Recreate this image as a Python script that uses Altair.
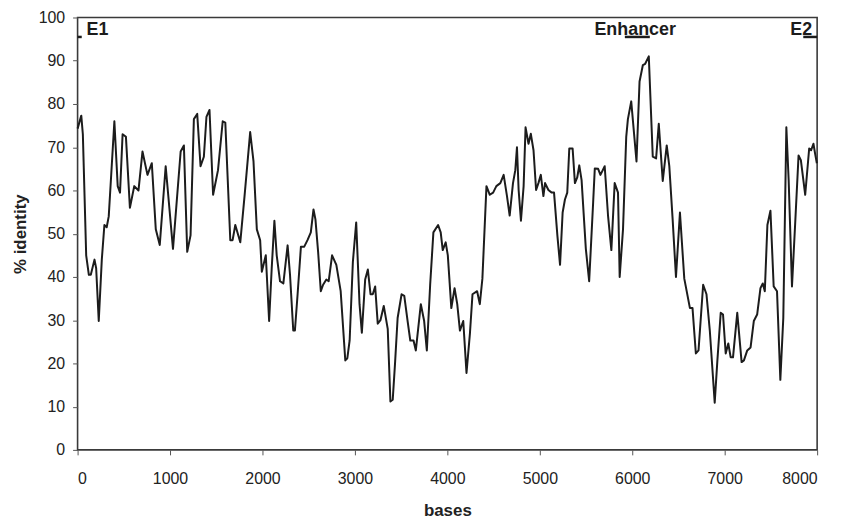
import altair as alt
import pandas as pd

# sequence identity trace (bases, % identity)
bases = [0, 40, 57, 93, 122, 143, 183, 201, 229, 262, 290, 315, 337, 362, 398, 434, 459, 487, 523,
         566, 613, 659, 702, 756, 803, 846, 889, 953, 1032, 1115, 1150, 1186, 1222, 1258, 1294,
         1330, 1366, 1394, 1427, 1466, 1519, 1570, 1598, 1652, 1677, 1706, 1760, 1806, 1867,
         1903, 1939, 1975, 1993, 2036, 2072, 2100, 2129, 2154, 2190, 2226, 2272, 2298, 2333,
         2351, 2380, 2416, 2452, 2487, 2523, 2552, 2573, 2602, 2631, 2656, 2691, 2716, 2753,
         2799, 2846, 2896, 2918, 2943, 2978, 3014, 3050, 3075, 3111, 3140, 3169, 3193, 3219,
         3247, 3276, 3312, 3355, 3384, 3409, 3434, 3462, 3505, 3534, 3570, 3599, 3634, 3659,
         3713, 3749, 3778, 3814, 3849, 3900, 3928, 3950, 3982, 4005, 4043, 4078, 4107, 4136,
         4172, 4207, 4244, 4272, 4322, 4351, 4379, 4423, 4459, 4495, 4530, 4573, 4609, 4645,
         4674, 4710, 4735, 4753, 4771, 4796, 4825, 4846, 4878, 4903, 4932, 4960, 4985, 5011,
         5039, 5057, 5093, 5129, 5154, 5190, 5219, 5247, 5272, 5297, 5319, 5355, 5380, 5405,
         5427, 5452, 5498, 5534, 5577, 5595, 5631, 5656, 5702, 5738, 5774, 5810, 5846, 5864,
         5900, 5935, 5953, 5989, 6046, 6079, 6115, 6140, 6179, 6222, 6258, 6287, 6330, 6373,
         6401, 6437, 6473, 6516, 6563, 6624, 6652, 6688, 6717, 6767, 6803, 6839, 6892, 6921,
         6957, 6982, 7011, 7039, 7065, 7090, 7136, 7183, 7208, 7244, 7280, 7315, 7351, 7387,
         7412, 7434, 7462, 7495, 7530, 7566, 7602, 7634, 7667, 7692, 7728, 7763, 7799, 7824,
         7871, 7914, 7935, 7960, 7978, 7997]
identity = [74.3, 77.3, 73, 45, 40.5, 40.5, 44, 42, 29.8, 44, 52, 51.5, 54, 63, 76, 61, 59.5, 73, 72.4,
            56, 61, 60, 69, 63.6, 66.3, 51, 47.4, 65.6, 46.5, 69, 70.4, 45.8, 49.6, 76.5, 77.7,
            65.6, 67.8, 77, 78.6, 59, 64.7, 76, 75.7, 48.5, 48.5, 52, 48, 58.7, 73.5,
            66.7, 51, 48.5, 41.2, 45, 29.8, 42, 53, 45, 39, 38.5, 47.3, 40.5, 27.6,
            27.6, 36, 47, 47, 48.5, 50.3, 55.6, 53.3, 45.8, 36.7, 38.2, 39.4, 39, 45,
            42.8, 36.7, 20.7, 21.2, 25.3, 43.5, 52.6, 33.7, 27.1, 39.4, 41.7, 36, 36, 37.8,
            29.2, 30, 33.3, 28, 11.2, 11.6, 20, 30.5, 36, 35.6, 29.8, 25.3, 25.3, 23,
            33.7, 29.8, 23, 38.2, 50.3, 52, 50.3, 46.2, 48, 45, 32.8, 37.4, 33.7, 27.6,
            29.8, 17.8, 26.9, 36, 36.7, 33.7, 39.6, 61, 59, 59.5, 61, 61.7, 63.6, 58.7,
            54.2, 61.7, 64.7, 70, 60.1, 53, 61, 74.6, 70.8, 73.1, 69.3, 60.1, 61.7, 63.6,
            58.7, 61.7, 60.1, 59.5, 59.5, 49.6, 42.8, 54.9, 57.9, 59.5, 69.7, 69.7, 61.7, 63,
            65.8, 62.4, 46.5, 39, 57.2, 65.1, 65, 63.6, 65.6, 54.2, 46.2, 61.7, 59.5, 40,
            51, 72.4, 76.5, 80.6, 66.7, 85.2, 89, 89.3, 91, 67.8, 67.4, 75.4, 62.2, 70.4,
            65.6, 53.3, 40, 54.9, 39.6, 32.8, 32.8, 22.3, 23, 38.2, 36, 27.6, 10.9, 20.7,
            31.7, 31.3, 22.3, 24.6, 21.4, 21.4, 31.7, 20.3, 20.7, 23, 23.7, 29.8, 31.3, 37.4,
            38.5, 36.7, 52, 55.3, 37.8, 36.7, 16.2, 30.5, 74.6, 62.4, 37.8, 52.6, 68.1, 67,
            59, 69.7, 69.3, 70.8, 68.5, 66.3]

# annotated features
feature_names = ["E1", "Enhancer", "E2"]
feature_start = [0, 5920, 7850]
feature_end = [45, 6190, 8000]
feature_label_x = [97, 5591, 7710]
feature_level = [95.5, 95.5, 95.5]
label_level = [95.9, 95.9, 95.9]

x_ticks = [0, 1000, 2000, 3000, 4000, 5000, 6000, 7000, 8000]
y_ticks = [0, 10, 20, 30, 40, 50, 60, 70, 80, 90, 100]

trace = pd.DataFrame({"bases": bases, "identity": identity})
features = pd.DataFrame({"name": feature_names, "start": feature_start, "end": feature_end,
                         "lx": feature_label_x, "level": feature_level, "tl": label_level})

FONT = "Liberation Sans"

xscale = alt.Scale(domain=[0, 8000], nice=False, zero=False)
yscale = alt.Scale(domain=[0, 100], nice=False)

line = alt.Chart(trace).mark_line(color="#1c1c1c", strokeWidth=2, strokeJoin="round").encode(
    x=alt.X("bases:Q", scale=xscale, title="bases",
            axis=alt.Axis(values=x_ticks, format="d", labelFontSize=16, labelPadding=16,
                          tickSize=5, titleFontSize=17, titlePadding=16)),
    y=alt.Y("identity:Q", scale=yscale, title="% identity",
            axis=alt.Axis(values=y_ticks, labelFontSize=16, labelPadding=8, tickSize=5,
                          titleFontSize=17, titlePadding=9)),
)

bars = alt.Chart(features).mark_rule(color="#1c1c1c", strokeWidth=2.5).encode(
    x=alt.X("start:Q", scale=xscale),
    x2="end:Q",
    y=alt.Y("level:Q", scale=yscale),
)

labels = alt.Chart(features).mark_text(
    align="left", baseline="alphabetic", font=FONT, fontSize=18, fontWeight="bold", color="#1c1c1c"
).encode(
    x=alt.X("lx:Q", scale=xscale),
    y=alt.Y("tl:Q", scale=yscale),
    text="name:N",
)

chart = alt.layer(line, bars, labels).properties(
    width=744, height=435,
    autosize=alt.AutoSizeParams(type="none"),
    padding={"left": 70, "top": 8, "right": 22, "bottom": 72},
).configure_view(
    stroke="#3a3a3a", strokeWidth=1.6
).configure_axis(
    labelFont=FONT, titleFont=FONT, labelColor="#222222", titleColor="#222222",
    titleFontWeight="bold", domain=False, grid=False, tickColor="#555555", tickWidth=1
)

chart.save("out.html", embed_options={"renderer": "svg", "actions": False})
